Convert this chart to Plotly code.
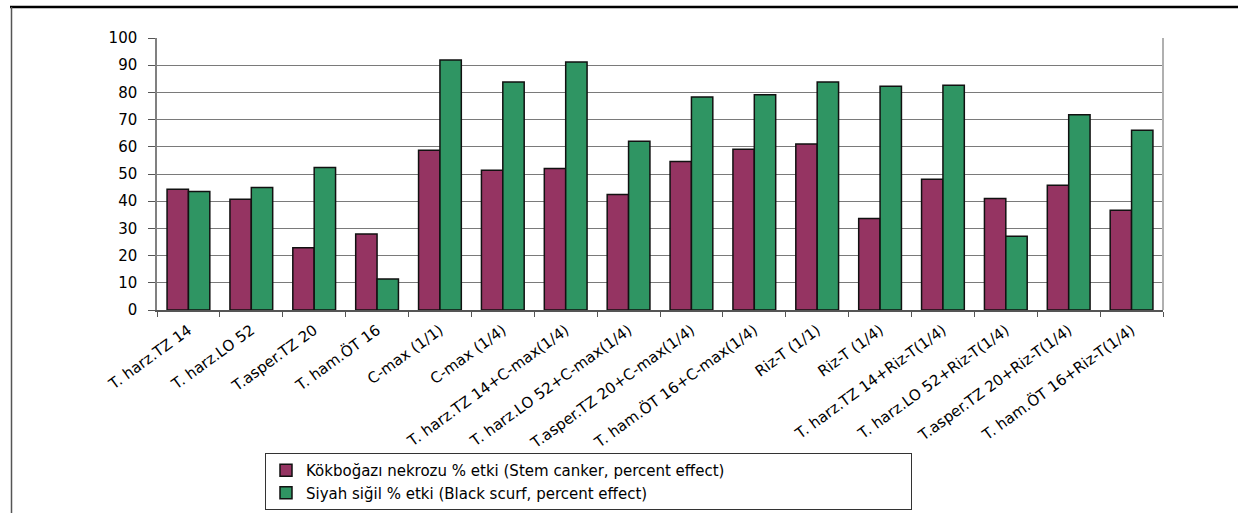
import plotly.graph_objects as go

# Treatment names (x categories)
treatments = [
    "T. harz.TZ 14", "T. harz.LO 52", "T.asper.TZ 20", "T. ham.ÖT 16",
    "C-max (1/1)", "C-max (1/4)",
    "T. harz.TZ 14+C-max(1/4)", "T. harz.LO 52+C-max(1/4)",
    "T.asper.TZ 20+C-max(1/4)", "T. ham.ÖT 16+C-max(1/4)",
    "Riz-T (1/1)", "Riz-T (1/4)",
    "T. harz.TZ 14+Riz-T(1/4)", "T. harz.LO 52+Riz-T(1/4)",
    "T.asper.TZ 20+Riz-T(1/4)", "T. ham.ÖT 16+Riz-T(1/4)",
]

# Percent effect on stem canker
stem_canker = [44.4, 40.7, 22.9, 27.9, 58.7, 51.4, 52.0, 42.5,
               54.6, 59.1, 61.0, 33.6, 48.1, 41.0, 45.9, 36.7]

# Percent effect on black scurf
black_scurf = [43.6, 45.0, 52.4, 11.4, 91.9, 83.8, 91.2, 62.0,
               78.3, 79.1, 83.8, 82.3, 82.6, 27.1, 71.8, 66.1]

series_names = [
    "Kökboğazı nekrozu % etki (Stem canker, percent effect)",
    "Siyah siğil % etki (Black scurf, percent effect)",
]
y_ticks = list(range(0, 101, 10))

W, H = 1238, 513
ML, MR, MT, MB = 157, 75, 38, 203
PW, PH = W - ML - MR, H - MT - MB


def px_x(px):
    return (px - ML) / PW


def px_y(py):
    return (H - MB - py) / PH


FONT = "DejaVu Sans, Arial, sans-serif"

fig = go.Figure()
fig.add_trace(go.Bar(
    x=treatments, y=stem_canker, name=series_names[0],
    marker=dict(color="#953462", line=dict(color="#111111", width=1.5)),
))
fig.add_trace(go.Bar(
    x=treatments, y=black_scurf, name=series_names[1],
    marker=dict(color="#2f9563", line=dict(color="#111111", width=1.5)),
))

fig.update_layout(
    width=W, height=H,
    margin=dict(l=ML, r=MR, t=MT, b=MB, autoexpand=False),
    paper_bgcolor="white", plot_bgcolor="white",
    barmode="group", bargap=0.32, bargroupgap=0,
    font=dict(family=FONT, color="#000000"),
    legend=dict(
        orientation="h",
        entrywidth=600, entrywidthmode="pixels",
        x=px_x(265), xanchor="left",
        y=px_y(510), yanchor="bottom",
        bordercolor="#333333", borderwidth=1,
        bgcolor="white",
        font=dict(family=FONT, size=15, color="#000000"),
        traceorder="normal",
    ),
    shapes=[
        # outer frame: top rule and left rule
        dict(type="line", xref="paper", yref="paper",
             x0=px_x(10), x1=px_x(W + 5), y0=px_y(7), y1=px_y(7),
             line=dict(color="#000000", width=2.5)),
        dict(type="line", xref="paper", yref="paper",
             x0=px_x(11.5), x1=px_x(11.5), y0=px_y(7), y1=px_y(H + 5),
             line=dict(color="#555555", width=1.5)),
        # right border of plot area
        dict(type="line", xref="paper", yref="paper",
             x0=1, x1=1, y0=0, y1=1,
             line=dict(color="#b0b0b0", width=2)),
    ],
)

fig.update_xaxes(
    type="category", automargin=False,
    showline=True, linecolor="#555555", linewidth=1.5,
    ticks="outside", tickson="boundaries", ticklen=5, tickcolor="#555555",
    tickangle=-36, ticklabelstandoff=4,
    tickfont=dict(family=FONT, size=15, color="#000000"),
    showgrid=False,
)
fig.update_yaxes(
    range=[0, 100], tickvals=y_ticks, automargin=False,
    showline=True, linecolor="#808080", linewidth=1.5,
    ticks="outside", ticklen=7, tickcolor="#555555",
    ticklabelstandoff=8,
    tickfont=dict(family=FONT, size=15, color="#000000"),
    showgrid=True, gridcolor="#7a7a7a", gridwidth=1,
    zeroline=False,
)

fig.write_html("out.html")
